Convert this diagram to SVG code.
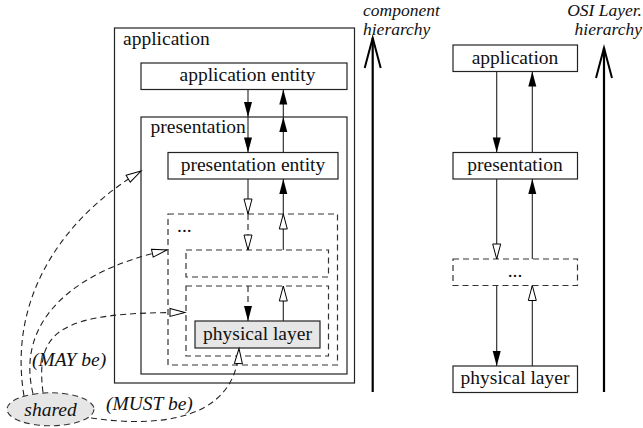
<svg xmlns="http://www.w3.org/2000/svg" width="643" height="428" viewBox="0 0 643 428">
<style>
.box{fill:#fff;stroke:#222;stroke-width:1.2}
.dbox{fill:none;stroke:#333;stroke-width:1.2;stroke-dasharray:6 4}
.t{font-family:"Liberation Serif","Times New Roman",serif;font-size:19.5px;fill:#111}
.ti{font-family:"Liberation Serif","Times New Roman",serif;font-size:19.5px;font-style:italic;fill:#111}
.th{font-family:"Liberation Serif","Times New Roman",serif;font-size:17.5px;font-style:italic;fill:#111}
.ln{fill:none;stroke:#222;stroke-width:1.1}
.dl{fill:none;stroke:#222;stroke-width:1.1;stroke-dasharray:6 4}
.big{fill:none;stroke:#000;stroke-width:2.2}
</style>
<defs>
<marker id="af" markerUnits="userSpaceOnUse" markerWidth="16" markerHeight="10" refX="15" refY="4" orient="auto" overflow="visible">
<path d="M0,0 L15,4 L0,8 Z" fill="#000"/>
</marker>
<marker id="ah" markerUnits="userSpaceOnUse" markerWidth="16" markerHeight="10" refX="15" refY="4" orient="auto" overflow="visible">
<path d="M0,0 L15,4 L0,8 Z" fill="#fff" stroke="#000" stroke-width="1"/>
</marker>
<marker id="ab" markerUnits="userSpaceOnUse" markerWidth="32" markerHeight="18" refX="30" refY="8" orient="auto" overflow="visible">
<path d="M0,0 L30,8 L0,16" fill="none" stroke="#000" stroke-width="2"/>
</marker>
</defs>

<g id="application">
<rect class="box" x="114.5" y="28" width="240" height="355"/>
<text class="t" x="123" y="45">application</text>
</g>
<g id="application-entity">
<rect class="box" x="141" y="63" width="206" height="26.5"/>
<text class="t" x="247.5" y="81" text-anchor="middle">application entity</text>
</g>
<g id="presentation">
<rect class="box" x="141" y="117" width="206" height="257" fill="none"/>
<text class="t" x="150.5" y="132.5">presentation</text>
</g>
<g id="presentation-entity">
<rect class="box" x="168" y="152.5" width="170" height="26.5"/>
<text class="t" x="253" y="170.5" text-anchor="middle">presentation entity</text>
</g>
<g id="dots-layer">
<rect class="dbox" x="168" y="214" width="169.5" height="151"/>
<text class="t" x="177" y="231.5">...</text>
</g>
<g id="inner-layer-1">
<rect class="dbox" x="186" y="250" width="142.5" height="27"/>
</g>
<g id="inner-layer-2">
<rect class="dbox" x="186" y="286" width="142.5" height="70"/>
</g>
<g id="physical-layer">
<rect x="195" y="321" width="125" height="27" fill="#e6e6e6" stroke="#222" stroke-width="1.2"/>
<text class="t" x="257.5" y="339.5" text-anchor="middle">physical layer</text>
</g>
<g id="shared">
<ellipse cx="50.5" cy="409.3" rx="43.5" ry="16.5" fill="#e6e6e6" stroke="#333" stroke-width="1.1" stroke-dasharray="6 4"/>
<text class="ti" x="50.5" y="416" text-anchor="middle">shared</text>
</g>

<g id="osi-application">
<rect class="box" x="453" y="45" width="124.5" height="26.5"/>
<text class="t" x="515" y="63.5" text-anchor="middle">application</text>
</g>
<g id="osi-presentation">
<rect class="box" x="453" y="152.5" width="124.5" height="26.5"/>
<text class="t" x="515" y="170.5" text-anchor="middle">presentation</text>
</g>
<g id="osi-dots">
<rect class="dbox" x="453" y="259" width="124.5" height="26.5"/>
<text class="t" x="515" y="277" text-anchor="middle">...</text>
</g>
<g id="osi-physical">
<rect class="box" x="453" y="366" width="124.5" height="26.5"/>
<text class="t" x="515" y="384" text-anchor="middle">physical layer</text>
</g>

<g id="labels">
<text class="th" x="363" y="15.5">component</text>
<text class="th" x="363" y="34.5">hierarchy</text>
<text class="th" x="642" y="15.5" text-anchor="end">OSI Layer.</text>
<text class="th" x="642" y="34.5" text-anchor="end">hierarchy</text>
<text class="ti" x="32" y="366">(MAY be)</text>
<text class="ti" x="106" y="410">(MUST be)</text>
</g>

<g id="connectors">
<path class="big" d="M372.7,392 V38" marker-end="url(#ab)"/>
<path class="big" d="M604,392 V48" marker-end="url(#ab)"/>
<path class="ln" d="M248,89.5 V117" marker-end="url(#af)"/>
<path class="ln" d="M248,117 V152.5" marker-end="url(#af)"/>
<path class="ln" d="M248,179 V214" marker-end="url(#ah)"/>
<path class="dl" d="M248,214 V250" marker-end="url(#ah)"/>
<path class="dl" d="M248,286 V321" marker-end="url(#af)"/>
<path class="ln" d="M283.3,117 V89.5" marker-end="url(#af)"/>
<path class="ln" d="M283.3,152.5 V117" marker-end="url(#af)"/>
<path class="ln" d="M283.3,214 V179" marker-end="url(#af)"/>
<path class="ln" d="M283.3,250 V214" marker-end="url(#ah)"/>
<path class="ln" d="M283.3,321 V286" marker-end="url(#ah)"/>
<path class="ln" d="M496.7,71.5 V152.5" marker-end="url(#af)"/>
<path class="ln" d="M532.3,152.5 V71.5" marker-end="url(#af)"/>
<path class="ln" d="M496.7,179 V259" marker-end="url(#ah)"/>
<path class="ln" d="M532.3,259 V179" marker-end="url(#af)"/>
<path class="ln" d="M496.7,285.5 V366" marker-end="url(#af)"/>
<path class="ln" d="M532.3,366 V285.5" marker-end="url(#ah)"/>
<path class="dl" d="M24,395.8 C8,300 60,220 141,171" marker-end="url(#ah)"/>
<path class="dl" d="M33,393.7 C15,320 75,270 167,250" marker-end="url(#ah)"/>
<path class="dl" d="M43,392.5 C35,330 60,312 185,312.5" marker-end="url(#ah)"/>
<path class="dl" d="M91,418 C160,428 236,420 239,348.5" marker-end="url(#ah)"/>
</g>
</svg>
